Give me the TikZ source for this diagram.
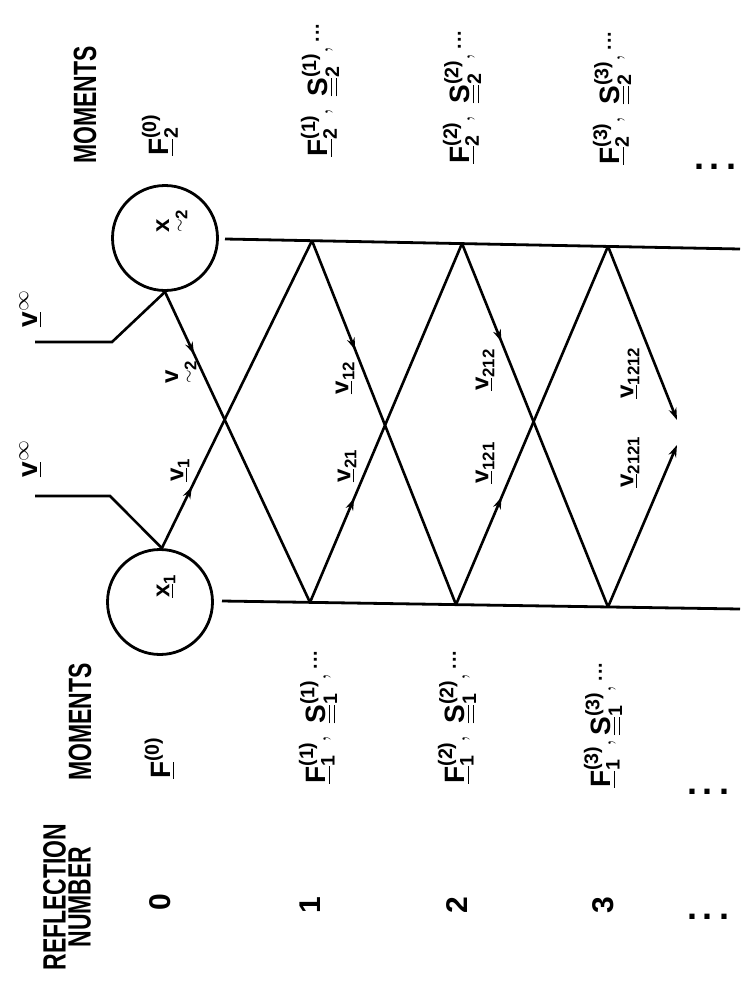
\documentclass[tikz,border=0pt]{standalone}
\usepackage{fontspec}
\setmainfont{Liberation Sans}
\usepackage{amsmath}
\usepackage{graphicx}
\usetikzlibrary{arrows.meta,decorations.markings}
\newcommand{\myv}[1]{\underline{\text{v}}_{\text{#1}}}
\newcommand{\mytv}[2]{\underset{\sim}{\text{#1}}_{\text{#2}}}
\newcommand{\myF}[2]{\underline{\text{F}}^{\text{(#1)}}_{\text{#2}}}
\newcommand{\myS}[2]{\underline{\underline{\text{S}}}^{\text{(#1)}}_{\text{#2}}}
\newcommand{\mydots}{{}^{\text{.\kern1pt.\kern1pt.}}}
\tikzset{
  wall/.style={line width=2.8pt},
  ray/.style={line width=2.6pt},
  midarrow/.style={postaction={decorate},decoration={markings,
     mark=at position #1 with {\arrow{Stealth[length=12pt,width=8pt]}}}},
  endarrow/.style={-{Stealth[length=12pt,width=8pt]}},
  ball/.style={draw,circle,line width=2.8pt,minimum size=105pt,inner sep=0pt},
  lbl/.style={rotate=90,font=\fontsize{24}{28}\selectfont\bfseries,inner sep=0pt},
  mlbl/.style={rotate=90,font=\fontsize{28}{32}\selectfont\bfseries,inner sep=0pt},
  head/.style={rotate=90,font=\fontsize{23}{25}\selectfont\bfseries,inner sep=0pt,align=center},
  num/.style={rotate=90,font=\fontsize{30}{30}\selectfont\bfseries,inner sep=0pt},
  dotsn/.style={font=\fontsize{36}{36}\selectfont\bfseries,inner sep=0pt}
}
\begin{document}
\begin{tikzpicture}[x=1pt,y=-1pt]
\useasboundingbox (0,0) rectangle (740,990);

% circles
\node[ball] (x2) at (165,238) {};
\node[ball] (x1) at (160,602) {};
\node[lbl] (x2l) at (172,221) {$\mytv{x}{2}$};
\node[lbl] (x1l) at (166,586) {$\underline{\text{x}}_{\text{1}}$};

% walls
\coordinate (TL) at (225,239);
\coordinate (TR) at (740,249);
\coordinate (BL) at (222,601);
\coordinate (BR) at (740,609);
\draw[wall] (TL) -- (TR);
\draw[wall] (BL) -- (BR);

% reflection points
\coordinate (T1) at (312,240.7);
\coordinate (T2) at (462,243.5);
\coordinate (T3) at (608,246.3);
\coordinate (B1) at (310,602.4);
\coordinate (B2) at (456,604.6);
\coordinate (B3) at (608,607);
\coordinate (E1) at (677,420);
\coordinate (E2) at (677,445);

% incoming
\coordinate (U0) at (35,342);
\coordinate (U1) at (112,342);
\coordinate (L0) at (35,496);
\coordinate (L1) at (110,496);
\draw[ray] (U0) -- (U1) -- (x2.south);
\draw[ray] (L0) -- (L1) -- (x1.88);

% rays
\draw[ray,midarrow=0.2] (x2.south) -- (B1);
\draw[ray,midarrow=0.2] (x1.88) -- (T1);
\draw[ray,midarrow=0.3] (T1) -- (B2);
\draw[ray,midarrow=0.29] (B1) -- (T2);
\draw[ray,midarrow=0.27] (T2) -- (B3);
\draw[ray,midarrow=0.3] (B2) -- (T3);
\draw[ray,endarrow] (T3) -- (E1);
\draw[ray,endarrow] (B3) -- (E2);

% ray labels
\node[mlbl] (vinfU) at (31,309) {$\underline{\text{v}}^{\infty}$};
\node[mlbl] (vinfL) at (31,459) {$\underline{\text{v}}^{\infty}$};
\node[lbl] (v2) at (181,372) {$\mytv{v}{2}$};
\node[lbl] (v1) at (180,470) {$\myv{1}$};
\node[lbl] (v12) at (345,378) {$\myv{12}$};
\node[lbl] (v21) at (347,466) {$\myv{21}$};
\node[lbl] (v212) at (485,370) {$\myv{212}$};
\node[lbl] (v121) at (485,463) {$\myv{121}$};
\node[lbl] (v1212) at (630,373) {$\myv{1212}$};
\node[lbl] (v2121) at (630,462) {$\myv{2121}$};

% headings
\node[head] (mom2) at (85,105) {\scalebox{1}[1.4]{MOMENTS}};
\node[head] (mom1) at (80,722) {\scalebox{1}[1.4]{MOMENTS}};
\node[head] (refl) at (67,897) {\scalebox{1}[1.4]{REFLECTION}\\\scalebox{1}[1.4]{NUMBER}};

% reflection numbers
\node[num] (n0) at (160,902) {0};
\node[num] (n1) at (310,905) {1};
\node[num] (n2) at (457,905) {2};
\node[num] (n3) at (603,905) {3};
\node[dotsn] (nd) at (708,917) {.\hspace{6pt}.\hspace{6pt}.};

% moments, side 1
\node[mlbl] (m10) at (160,758) {$\underline{\text{F}}^{\text{(0)}}$};
\node[mlbl] (m11) at (318,717) {$\myF{1}{1},\ \myS{1}{1},\mydots$};
\node[mlbl] (m12) at (457,717) {$\myF{2}{1},\ \myS{2}{1},\mydots$};
\node[mlbl] (m13) at (603,725) {$\myF{3}{1},\myS{3}{1},\mydots$};
\node[dotsn] (m1d) at (708,792) {.\hspace{6pt}.\hspace{6pt}.};

% moments, side 2
\node[mlbl] (m20) at (160,135) {$\myF{0}{2}$};
\node[mlbl] (m21) at (320,90) {$\myF{1}{2},\ \myS{1}{2},\mydots$};
\node[mlbl] (m22) at (462,97) {$\myF{2}{2},\ \myS{2}{2},\mydots$};
\node[mlbl] (m23) at (612,98) {$\myF{3}{2},\ \myS{3}{2},\mydots$};
\node[dotsn] (m2d) at (715,167) {.\hspace{6pt}.\hspace{6pt}.};
\end{tikzpicture}
\end{document}
